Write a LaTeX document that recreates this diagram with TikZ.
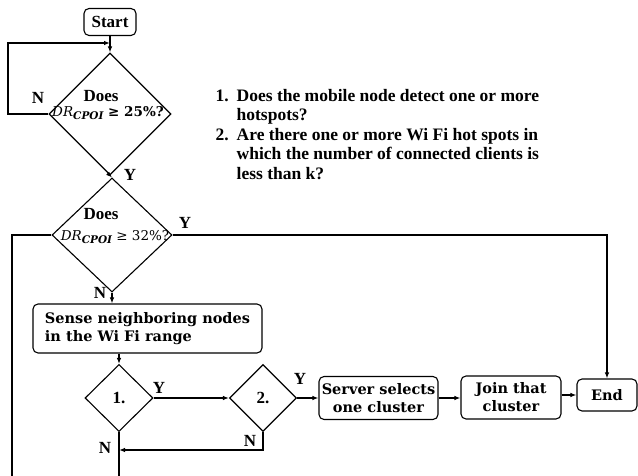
\documentclass[tikz,border=0pt]{standalone}
\usepackage{fontspec}
\setmainfont{Liberation Serif}
\newfontfamily\boxfont{DejaVu Serif}
\usetikzlibrary{shapes.geometric,arrows.meta}
\begin{document}
\begin{tikzpicture}[x=1pt,y=-1pt,line width=1.1pt,
  >={Latex[length=6pt,width=4.5pt]},
  box/.style={draw,rounded corners=5pt,inner sep=0pt,align=center,
    font=\boxfont\bfseries\fontsize{14.5}{18}\selectfont},
  dia/.style={draw,diamond,inner sep=0pt},
  lbl/.style={inner sep=0pt,font=\bfseries\fontsize{17}{17}\selectfont},
  qtext/.style={inner sep=0pt,font=\bfseries\fontsize{17}{17}\selectfont},
  cond/.style={inner sep=0pt,font=\boxfont\fontsize{13.5}{14}\selectfont}]
\useasboundingbox (0,0) rectangle (638,476);

% main column
\node[box,font=\bfseries\fontsize{17}{17}\selectfont,
  minimum width=52pt,minimum height=27pt] (start) at (110,22) {Start};
\node[dia,minimum width=122pt,minimum height=122pt] (d1) at (110,114) {};
\node[dia,minimum width=120pt,minimum height=114pt] (d2) at (112,235) {};

\node[qtext] (q1a) at (101,96) {Does};
\node[cond] (q1b) at (108,113)
  {\itshape DR\raisebox{-2.5pt}{\fontsize{10.5}{11}\selectfont\bfseries CPOI}\upshape\bfseries\ ≥ 25\%?};
\node[qtext] (q2a) at (101,214) {Does};
\node[cond] (q2b) at (115,237)
  {\itshape DR\raisebox{-2.5pt}{\fontsize{10.5}{11}\selectfont\bfseries CPOI}\upshape\ ≥ 32\%?};

\node[box,align=left,minimum width=229pt,minimum height=49pt] (sense) at (147.5,328.5)
  {Sense neighboring nodes\\in the Wi Fi range};

\node[dia,minimum width=68pt,minimum height=67pt,font=\bfseries\fontsize{17}{17}\selectfont] (d3) at (119,398) {1.};
\node[dia,minimum width=67pt,minimum height=67pt,font=\bfseries\fontsize{17}{17}\selectfont] (d4) at (263,398) {2.};

\node[box,minimum width=119pt,minimum height=43pt] (server) at (378.5,398)
  {Server selects\\one cluster};
\node[box,minimum width=100pt,minimum height=43pt] (join) at (511,397.5)
  {Join that\\cluster};
\node[box,minimum width=60pt,minimum height=32pt] (end) at (607,395) {End};

% numbered questions
\node[anchor=north west,inner sep=0pt,align=left,
  font=\bfseries\fontsize{17.5}{19.5}\selectfont] (notes) at (215,87)
  {\begin{tabular}{@{}l@{\hspace{8pt}}l@{}}
   1. & Does the mobile node detect one or more\\
      & hotspots?\\
   2. & Are there one or more Wi Fi hot spots in\\
      & which the number of connected clients is\\
      & less than k?
   \end{tabular}};

% free ends of connectors
\coordinate (loop) at (8,43);
\coordinate (leftdown) at (12,476);
\coordinate (merge) at (119,450);
\coordinate (down) at (119,476);

% connectors
\draw[->] (start.south) -- (d1.north);
\draw[->] (d1.west) -| (loop) -- (loop -| d1.north);
\draw[->] (d1.south) -- (d2.north);
\draw[->] (d2.east) -| (end.north);
\draw (d2.west) -| (leftdown);
\draw[->] (d2.south) -- (d2.south |- sense.north);
\draw[->] (sense.south -| d3.north) -- (d3.north);
\draw[->] (d3.east) -- (d4.west);
\draw[->] (d4.east) -- (server.west |- d4.east);
\draw[->] (server.east) -- (server.east -| join.west);
\draw[->] (join.east |- end.west) -- (end.west);
\draw[->] (d4.south) |- (merge);
\draw (d3.south) -- (down);

% branch labels
\node[lbl] (n1) at (38,98) {N};
\node[lbl] (y1) at (130,175) {Y};
\node[lbl] (y2) at (185,223) {Y};
\node[lbl] (n2) at (100,293) {N};
\node[lbl] (y3) at (159,388) {Y};
\node[lbl] (y4) at (300,379) {Y};
\node[lbl] (n3) at (250,441) {N};
\node[lbl] (n4) at (105,448) {N};
\end{tikzpicture}
\end{document}
